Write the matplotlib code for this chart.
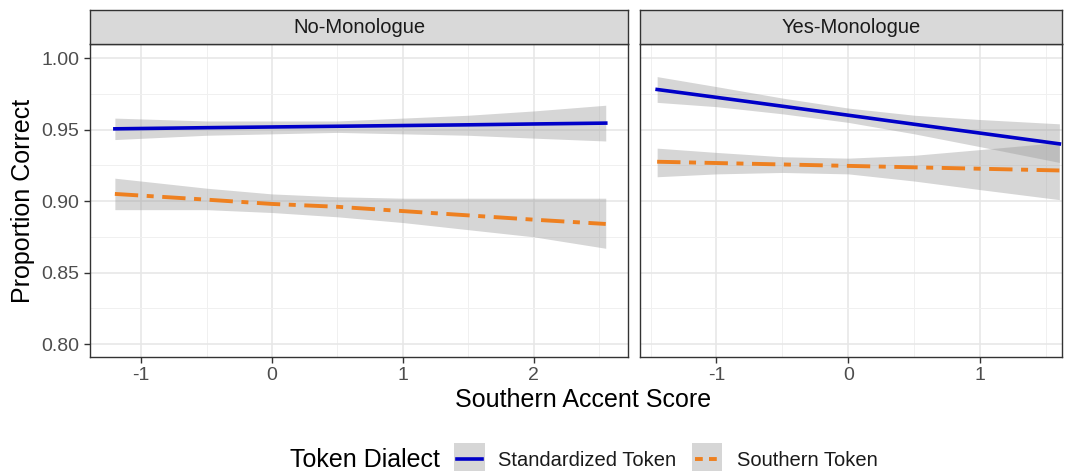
import matplotlib
matplotlib.use("Agg")
import matplotlib.pyplot as plt
import numpy as np
from matplotlib.patches import Rectangle
from matplotlib.lines import Line2D

plt.rcParams["font.family"] = ["Liberation Sans", "DejaVu Sans"]
plt.rcParams["axes.unicode_minus"] = False

# ---- data ----
panels = ["No-Monologue", "Yes-Monologue"]

# No-Monologue
no_x = [-1.2, -0.5, 0.0, 0.5, 1.0, 1.5, 2.0, 2.55]
no_std_fit = [0.9505, 0.9513, 0.9518, 0.9523, 0.9528, 0.9533, 0.9539, 0.9545]
no_std_lo = [0.943, 0.946, 0.947, 0.948, 0.947, 0.946, 0.944, 0.942]
no_std_hi = [0.958, 0.956, 0.956, 0.956, 0.958, 0.960, 0.963, 0.967]
no_sou_fit = [0.905, 0.901, 0.898, 0.896, 0.893, 0.890, 0.887, 0.884]
no_sou_lo = [0.894, 0.894, 0.892, 0.889, 0.885, 0.880, 0.875, 0.867]
no_sou_hi = [0.916, 0.909, 0.905, 0.903, 0.902, 0.902, 0.902, 0.902]

# Yes-Monologue
yes_x = [-1.45, -1.0, -0.5, 0.0, 0.5, 1.0, 1.6]
yes_std_fit = [0.978, 0.9725, 0.9663, 0.960, 0.9537, 0.9475, 0.940]
yes_std_lo = [0.969, 0.966, 0.961, 0.955, 0.947, 0.938, 0.927]
yes_std_hi = [0.987, 0.980, 0.972, 0.965, 0.960, 0.957, 0.954]
yes_sou_fit = [0.9275, 0.9266, 0.9256, 0.9246, 0.9236, 0.9226, 0.9214]
yes_sou_lo = [0.917, 0.919, 0.920, 0.919, 0.914, 0.908, 0.901]
yes_sou_hi = [0.937, 0.934, 0.931, 0.930, 0.932, 0.936, 0.941]

xlims = [(-1.39, 2.72), (-1.58, 1.62)]
xticks = [[-1, 0, 1, 2], [-1, 0, 1]]
xminor = [[-0.5, 0.5, 1.5, 2.5], [-1.5, -0.5, 0.5, 1.5]]
ylim = (0.791, 1.0098)
yticks = [0.80, 0.85, 0.90, 0.95, 1.00]
yminor = [0.825, 0.875, 0.925, 0.975]

legend_labels = ["Standardized Token", "Southern Token"]
legend_title = "Token Dialect"

BLUE = "#0000C8"
ORANGE = "#EE8020"
DASH = (6.0, 2.2, 1.8, 2.2)

W, H = 1065, 471
fig = plt.figure(figsize=(W / 100, H / 100), dpi=100)

rects = [(90, 44, 628, 357), (640, 44, 1062, 357)]
data = [
    (no_x, no_std_fit, no_std_lo, no_std_hi, no_sou_fit, no_sou_lo, no_sou_hi),
    (yes_x, yes_std_fit, yes_std_lo, yes_std_hi, yes_sou_fit, yes_sou_lo, yes_sou_hi),
]

for i, (l, t, r, b) in enumerate(rects):
    ax = fig.add_axes([l / W, 1 - b / H, (r - l) / W, (b - t) / H])
    x, sf, sl, sh, of, ol, oh = data[i]
    ax.fill_between(x, sl, sh, color="#999999", alpha=0.4, lw=0, zorder=2)
    ax.plot(x, sf, color=BLUE, lw=2.6, zorder=3)
    ax.fill_between(x, ol, oh, color="#999999", alpha=0.4, lw=0, zorder=2)
    ax.plot(x, of, color=ORANGE, lw=2.8, dashes=DASH, zorder=3)
    ax.set_xlim(xlims[i])
    ax.set_ylim(ylim)
    ax.set_xticks(xticks[i])
    ax.set_xticks(xminor[i], minor=True)
    ax.set_yticks(yticks)
    ax.set_yticks(yminor, minor=True)
    ax.grid(which="major", color="#E6E6E6", lw=1.1, zorder=0)
    ax.grid(which="minor", color="#F0F0F0", lw=0.7, zorder=0)
    ax.set_axisbelow(True)
    for s in ax.spines.values():
        s.set_color("#333333")
        s.set_linewidth(1.0)
    ax.tick_params(which="major", length=4, width=1, color="#333333",
                   labelcolor="#4D4D4D", labelsize=14)
    ax.tick_params(which="minor", length=0)
    if i == 0:
        ax.set_yticklabels([f"{v:.2f}" for v in yticks])
        ax.set_ylabel("Proportion Correct", fontsize=18, color="black", labelpad=5)
    else:
        ax.tick_params(axis="y", which="both", length=0, labelleft=False)

    # facet strip
    sax = fig.add_axes([l / W, 1 - t / H, (r - l) / W, (t - 10) / H])
    sax.set_facecolor("#D9D9D9")
    sax.set_xticks([])
    sax.set_yticks([])
    for s in sax.spines.values():
        s.set_color("#333333")
        s.set_linewidth(1.0)
    sax.text(0.5, 0.48, panels[i], ha="center", va="center", fontsize=14.5,
             color="#1A1A1A", transform=sax.transAxes)

fig.text(583 / W, 1 - 400 / H, "Southern Accent Score", ha="center", va="center",
         fontsize=18)

# legend (bottom)
fig.text(290 / W, 1 - 460 / H, legend_title, ha="left", va="center", fontsize=18)
keys = [(454, 485, 498), (692, 722, 737)]
for j, (k0, k1, tx) in enumerate(keys):
    fig.patches.append(Rectangle((k0 / W, 0), (k1 - k0) / W, (471 - 443) / H,
                                 transform=fig.transFigure, facecolor="#D6D6D6",
                                 edgecolor="none"))
    yk = 1 - 459 / H
    if j == 0:
        ln = Line2D([(k0 + 3) / W, (k1 - 3) / W], [yk, yk], color=BLUE, lw=2.6,
                    transform=fig.transFigure)
    else:
        ln = Line2D([(k0 + 3) / W, (k1 - 3) / W], [yk, yk], color=ORANGE, lw=2.8,
                    dashes=(2.0, 1.6), transform=fig.transFigure)
    fig.lines.append(ln)
    fig.text(tx / W, 1 - 460 / H, legend_labels[j], ha="left", va="center",
             fontsize=14.5, color="#1A1A1A")

fig.savefig("out.png", dpi=100)
